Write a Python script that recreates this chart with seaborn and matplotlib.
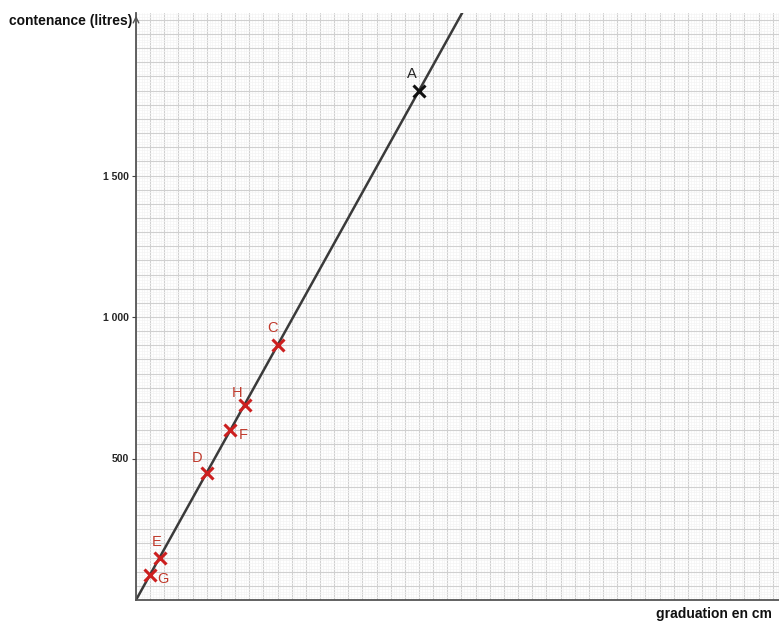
import matplotlib
matplotlib.use("Agg")
import matplotlib.pyplot as plt
import seaborn as sns
import numpy as np
import pandas as pd
from matplotlib.ticker import MultipleLocator, FixedLocator

# points
labels = ['A', 'C', 'H', 'F', 'D', 'E', 'G']
graduation = [20, 10, 7.67, 6.67, 5, 1.67, 1]
contenance = [1800, 900, 690, 600, 450, 150, 90]
colors = ['#111111', '#cc1f1f', '#cc1f1f', '#cc1f1f', '#cc1f1f', '#cc1f1f', '#cc1f1f']

# line y = 90 x through the origin
line_x = [0, 25]
line_y = [0, 2250]

y_ticks = [500, 1000, 1500]
y_tick_labels = ['500', '1 000', '1 500']

sns.set_style("white")
plt.rcParams['font.family'] = ['Liberation Sans', 'DejaVu Sans']

fig = plt.figure(figsize=(7.79, 6.21), dpi=100)
ax = fig.add_axes([136 / 779, 21 / 621, 1 - 136 / 779, (600 - 13) / 621])

ax.set_xlim(0, 643 / 14.15)
ax.set_ylim(0, 587 / 0.283)

# graph paper grid
ax.xaxis.set_major_locator(MultipleLocator(1))
ax.xaxis.set_minor_locator(MultipleLocator(0.2))
ax.yaxis.set_major_locator(MultipleLocator(50))
ax.yaxis.set_minor_locator(MultipleLocator(10))
ax.grid(which='minor', color='#f4f4f4', linewidth=0.5)
ax.grid(which='major', color='#d0d0d0', linewidth=0.8)
ax.set_axisbelow(True)
ax.tick_params(which='both', length=0, labelbottom=False, labelleft=False)

line_df = pd.DataFrame({'x': line_x, 'y': line_y})
sns.lineplot(data=line_df, x='x', y='y', color='#3a3a3a', linewidth=1.8, ax=ax)

df = pd.DataFrame({'label': labels, 'x': graduation, 'y': contenance, 'c': colors})
for _, row in df.iterrows():
    ax.plot(row['x'], row['y'], marker='x', markersize=8, markeredgewidth=2.2,
            color=row['c'], zorder=5)

offsets = {'A': (-7, 17), 'C': (-5, 17), 'H': (-7, 12), 'F': (13, -5),
           'D': (-10, 15), 'E': (-3, 16), 'G': (13, -4)}
for lab, x, y, c in zip(labels, graduation, contenance, colors):
    dx, dy = offsets[lab]
    ax.annotate(lab, (x, y), xytext=(dx * 0.72, dy * 0.72), textcoords='offset points',
                ha='center', va='center', fontsize=10.5,
                color='#222222' if lab == 'A' else '#c0392b')

# y tick labels drawn as a separate tick set
ax2 = ax.twinx()
ax2.set_ylim(ax.get_ylim())
ax2.yaxis.set_ticks_position('left')
ax2.yaxis.set_major_locator(FixedLocator(y_ticks))
ax2.set_yticklabels(y_tick_labels, fontsize=7.5, fontweight='bold')
ax2.tick_params(axis='y', length=3, width=0.8, color='#444444', pad=2)
ax2.grid(False)
for s in ax2.spines.values():
    s.set_visible(False)

for side in ['top', 'right']:
    ax.spines[side].set_visible(False)
for side in ['left', 'bottom']:
    ax.spines[side].set_color('#555555')
    ax.spines[side].set_linewidth(1.3)
ax.set_xlabel('')
ax.set_ylabel('')

# arrow at top of y axis
ax.annotate('', xy=(0, 1.0), xycoords='axes fraction', xytext=(0, 0.985),
            arrowprops=dict(arrowstyle='->', color='#555555', lw=1.0))

fig.text(132 / 779, 1 - 21 / 621, 'contenance (litres)', ha='right', va='center',
         fontsize=10, fontweight='bold', color='#111111')
fig.text(772 / 779, 1 - 614 / 621, 'graduation en cm', ha='right', va='center',
         fontsize=10, fontweight='bold', color='#111111')

fig.savefig('out.png', dpi=100)
